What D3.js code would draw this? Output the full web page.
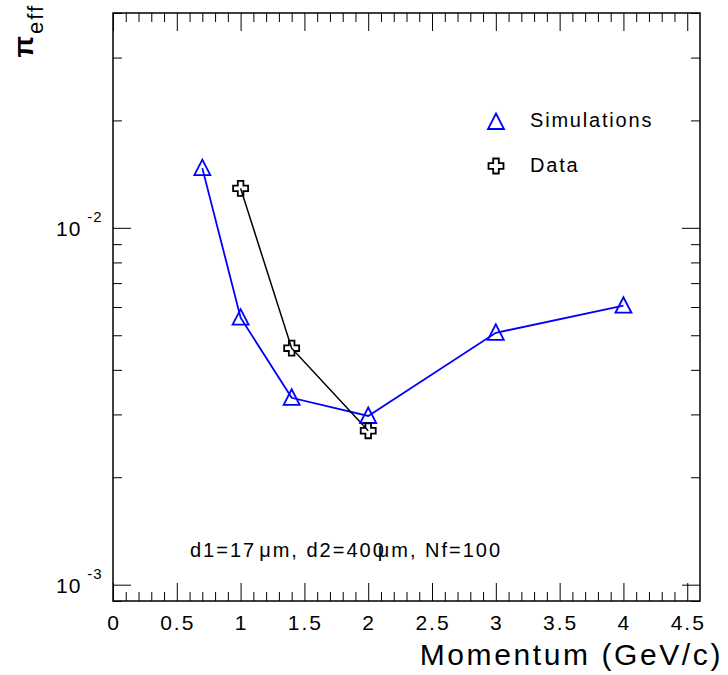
<!DOCTYPE html>
<html>
<head>
<meta charset="utf-8">
<script src="https://cdn.jsdelivr.net/npm/d3@7"></script>
<style>
  body { margin: 0; background: #fff; }
  svg { display: block; }
  text { font-family: "Liberation Sans", Arial, sans-serif; fill: #000; }
</style>
</head>
<body>
<svg></svg>
<script>
// values
const simMomentum = [0.7, 1.0, 1.4, 2.0, 3.0, 4.0]
const simEff = [0.0147, 0.0056, 0.00334, 0.00297, 0.00508, 0.00605]
const dataMomentum = [1.0, 1.4, 2.0]
const dataEff = [0.0129, 0.0046, 0.0027]

const xTicks = [0, 0.5, 1, 1.5, 2, 2.5, 3, 3.5, 4, 4.5]
const xTickLabels = ['0', '0.5', '1', '1.5', '2', '2.5', '3', '3.5', '4', '4.5']
const yDecades = [0.001, 0.01]
const yDecadeExp = ['-3', '-2']
const yMinor = [0.0009, 0.002, 0.003, 0.004, 0.005, 0.006, 0.007, 0.008, 0.009, 0.02, 0.03, 0.04]

const width = 728
const height = 675

const svg = d3.select('svg').attr('width', width).attr('height', height)

const margin = { top: 13, left: 113, right: 28, bottom: 74 }

// scales in page coordinates, so labels need no group transform
const xScale = d3.scaleLinear().domain([0, 4.6]).range([margin.left, width - margin.right])
const yScale = d3.scaleLog().domain([0.0009, 0.04]).range([height - margin.bottom, margin.top])
const x0 = margin.left, x1 = width - margin.right
const y0 = height - margin.bottom, y1 = margin.top

const major = 18, minor = 9
const xMinor = d3.range(1, 46).map(i => i / 10).filter(v => Math.abs(v * 2 - Math.round(v * 2)) > 1e-6)

// ticks only: no axis line, no tick text
const tidy = sel => {
  sel.select('.domain').remove()
  sel.selectAll('text').remove()
  sel.selectAll('line').attr('stroke', '#000').attr('stroke-width', 1)
}

const ticks = (axis, tx, ty) => svg.append('g')
  .attr('transform', `translate(${tx},${ty})`)
  .call(axis.tickFormat(''))
  .call(tidy)

ticks(d3.axisBottom(xScale).tickValues(xTicks).tickSize(-major), 0, y0)
ticks(d3.axisBottom(xScale).tickValues(xMinor).tickSize(-minor), 0, y0)
ticks(d3.axisTop(xScale).tickValues(xTicks).tickSize(-major), 0, y1)
ticks(d3.axisTop(xScale).tickValues(xMinor).tickSize(-minor), 0, y1)
ticks(d3.axisLeft(yScale).tickValues(yDecades).tickSize(-major), x0, 0)
ticks(d3.axisLeft(yScale).tickValues(yMinor).tickSize(-minor), x0, 0)
ticks(d3.axisRight(yScale).tickValues(yDecades).tickSize(-major), x1, 0)
ticks(d3.axisRight(yScale).tickValues(yMinor).tickSize(-minor), x1, 0)

// x tick labels
svg.selectAll('.xlab').data(xTicks).enter().append('text')
  .attr('class', 'xlab')
  .attr('x', d => xScale(d) + 1)
  .attr('y', y0 + 29)
  .attr('text-anchor', 'middle')
  .attr('font-size', 21)
  .attr('letter-spacing', '2px')
  .text((d, i) => xTickLabels[i])

// y decade labels
const yLab = svg.selectAll('.ylab').data(yDecades).enter().append('text')
  .attr('class', 'ylab')
  .attr('x', 56)
  .attr('y', d => yScale(d) + 8)
  .attr('font-size', 21)
  .attr('letter-spacing', '1px')
yLab.append('tspan').text('10')
yLab.append('tspan').attr('dx', 6).attr('dy', -14).attr('font-size', 15)
  .text((d, i) => yDecadeExp[i])

// frame
svg.append('rect')
  .attr('x', x0).attr('y', y1)
  .attr('width', x1 - x0).attr('height', y0 - y1)
  .attr('fill', 'none').attr('stroke', '#000').attr('stroke-width', 1.5)

// lines
const line = d3.line().x(d => xScale(d[0])).y(d => yScale(d[1]))
const simPts = simMomentum.map((m, i) => [m, simEff[i]])
const dataPts = dataMomentum.map((m, i) => [m, dataEff[i]])

svg.append('path').datum(simPts).attr('d', line)
  .attr('fill', 'none').attr('stroke', '#0000ff').attr('stroke-width', 1.8)
svg.append('path').datum(dataPts).attr('d', line)
  .attr('fill', 'none').attr('stroke', '#000').attr('stroke-width', 1.5)

// markers
const tri = 'M0,-8.5L8,7L-8,7Z'
const cross = 'M-2.8,-7.5H2.8V-2.8H7.5V2.8H2.8V7.5H-2.8V2.8H-7.5V-2.8H-2.8Z'

svg.selectAll('.sim').data(simPts).enter().append('path')
  .attr('class', 'sim')
  .attr('d', tri)
  .attr('transform', d => `translate(${xScale(d[0])},${yScale(d[1])})`)
  .attr('fill', 'none').attr('stroke', '#0000ff').attr('stroke-width', 1.8)

svg.selectAll('.dat').data(dataPts).enter().append('path')
  .attr('class', 'dat')
  .attr('d', cross)
  .attr('transform', d => `translate(${xScale(d[0])},${yScale(d[1])})`)
  .attr('fill', 'none').attr('stroke', '#000').attr('stroke-width', 1.8)

// legend
svg.append('path').attr('d', tri).attr('transform', 'translate(496,122)')
  .attr('fill', 'none').attr('stroke', '#0000ff').attr('stroke-width', 1.8)
svg.append('text').attr('x', 530).attr('y', 127).attr('font-size', 20)
  .attr('letter-spacing', '1.8px').text('Simulations')
svg.append('path').attr('d', cross).attr('transform', 'translate(496,166)')
  .attr('fill', 'none').attr('stroke', '#000').attr('stroke-width', 1.8)
svg.append('text').attr('x', 530).attr('y', 172).attr('font-size', 20)
  .attr('letter-spacing', '1.8px').text('Data')

// annotation
const ann = svg.append('text').attr('x', 190).attr('y', 557).attr('font-size', 20)
  .attr('letter-spacing', '2px')
ann.append('tspan').text('d1=17')
ann.append('tspan').attr('dx', 3).text('\u03bcm, d2=400')
ann.append('tspan').attr('dx', -8).text('\u03bcm, Nf=100')

// axis titles
svg.append('text').attr('x', 723).attr('y', 665).attr('text-anchor', 'end')
  .attr('font-size', 30).attr('letter-spacing', '2.6px').text('Momentum (GeV/c)')

const yt = svg.append('text').attr('transform', 'translate(33,4) rotate(-90)')
  .attr('text-anchor', 'end')
yt.append('tspan').attr('font-size', 28).attr('font-weight', 'bold').text('\u03c0')
yt.append('tspan').attr('font-size', 22).attr('dy', 10).attr('dx', 2)
  .attr('letter-spacing', '2px').text('eff')
</script>
</body>
</html>
